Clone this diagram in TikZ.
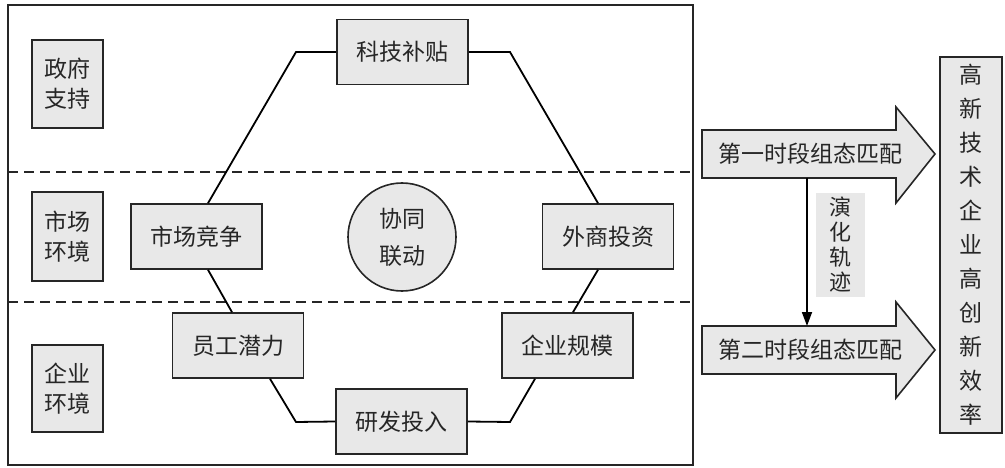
\documentclass[tikz,border=0pt]{standalone}
\usepackage{fontspec}
\newfontfamily\cjk{Noto Sans CJK SC}
\usetikzlibrary{arrows.meta}
\definecolor{boxgray}{HTML}{E8E8E8}
\definecolor{linec}{HTML}{262626}
\begin{document}
\begin{tikzpicture}[x=1pt,y=-1pt,
  box/.style={draw=linec, fill=boxgray, line width=1.6pt, inner sep=0pt, align=center, text=linec, font=\cjk\fontsize{23}{30}\selectfont},
  hbox/.style={box, minimum width=131pt, minimum height=65pt},
  lbox/.style={box, minimum width=71pt, minimum height=88pt},
  conn/.style={line width=1.8pt, draw=black},
  dashline/.style={line width=1.5pt, dash pattern=on 10pt off 6pt, draw=linec},
  bigarrow/.style={draw=linec, fill=boxgray, line width=1.6pt, line join=miter},
  atext/.style={text=linec, inner sep=0pt, font=\cjk\fontsize{23}{30}\selectfont}
]
\useasboundingbox (0,0) rectangle (1005,468);
% frame
\draw[line width=1.7pt, draw=linec] (8,5) rectangle (693,465);
% dashed separators
\coordinate (d1l) at (8,172); \coordinate (d1r) at (693,172);
\coordinate (d2l) at (8,302); \coordinate (d2r) at (693,302);
\draw[dashline] (d1l) -- (d1r);
\draw[dashline] (d2l) -- (d2r);
% left boxes
\node[lbox] (zf) at (67.5,84) {政府\\支持};
\node[lbox, minimum height=89pt] (sh) at (67.5,236.5) {市场\\环境};
\node[lbox, minimum height=87pt] (qh) at (67.5,388.5) {企业\\环境};
% hexagon corners
\coordinate (ctl) at (296,52);
\coordinate (ctr) at (510,52);
\coordinate (cbl) at (296,422);
\coordinate (cbr) at (510,422);
% hexagon nodes
\node[hbox] (kj) at (402.5,52) {科技补贴};
\node[hbox] (sc) at (196.5,236.5) {市场竞争};
\node[hbox] (wt) at (608,236.5) {外商投资};
\node[hbox] (yg) at (238,345.5) {员工潜力};
\node[hbox] (qy) at (567.5,345.5) {企业规模};
\node[hbox] (yf) at (401.5,421.5) {研发投入};
% connectors
\draw[conn] (kj.west) -- (ctl) -- ([xshift=11.5pt]sc.north);
\draw[conn] ([xshift=11.5pt]sc.south) -- ([xshift=-6pt]yg.north);
\draw[conn] ([xshift=32pt]yg.south) -- (cbl) -- (yf.west);
\draw[conn] (yf.east) -- (cbr) -- ([xshift=-32.5pt]qy.south);
\draw[conn] ([xshift=5.5pt]qy.north) -- ([xshift=-10pt]wt.south);
\draw[conn] ([xshift=-10pt]wt.north) -- (ctr) -- (kj.east);
% centre circle
\node[box, circle, minimum size=108pt, font=\cjk\fontsize{23}{37}\selectfont] (xt) at (402,237) {协同\\联动};
% big arrows
\draw[bigarrow] (702,130) -- (896,130) -- (896,107) -- (935,154) -- (896,203) -- (896,178) -- (702,178) -- cycle;
\draw[bigarrow] (702,326) -- (896,326) -- (896,302) -- (935,350) -- (896,398) -- (896,374) -- (702,374) -- cycle;
\node[atext] (a1) at (810,154) {第一时段组态匹配};
\node[atext] (a2) at (810,350) {第二时段组态匹配};
% evolution arrow
\coordinate (v1) at (807,178);
\coordinate (v2) at (807,326);
\draw[line width=1.7pt, draw=black, -{Triangle[length=14pt,width=10pt]}] (v1) -- (v2);
\node[fill=boxgray, minimum width=49pt, minimum height=104pt, inner sep=0pt, align=center, text=linec, font=\cjk\fontsize{22}{25}\selectfont] (yh) at (840.5,245) {演\\化\\轨\\迹};
% right result box
\node[box, minimum width=62pt, minimum height=376pt, font=\cjk\fontsize{23}{34}\selectfont] (res) at (971,245) {高\\新\\技\\术\\企\\业\\高\\创\\新\\效\\率};
\end{tikzpicture}
\end{document}
